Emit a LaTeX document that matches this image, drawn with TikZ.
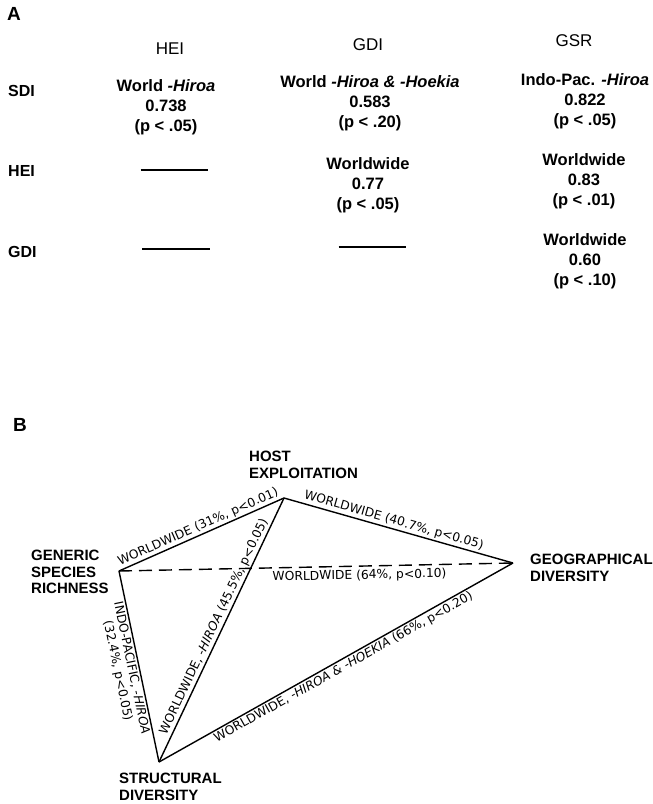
\documentclass[tikz,border=0pt]{standalone}
\usepackage{fontspec}
\setmainfont{Liberation Sans}
\newfontfamily\lblfont{DejaVu Sans}
\begin{document}
\begin{tikzpicture}[x=1pt,y=-1pt,
  tab/.style={font=\fontsize{16.5}{20}\selectfont\bfseries, align=center, inner sep=0pt},
  hdr/.style={font=\fontsize{17}{20}\selectfont, inner sep=0pt},
  rowl/.style={font=\fontsize{16}{20}\selectfont\bfseries, anchor=west, inner sep=0pt},
  panel/.style={font=\fontsize{19}{20}\selectfont\bfseries, inner sep=0pt},
  vlab/.style={font=\fontsize{15}{16.5}\selectfont\bfseries, align=left, anchor=west, inner sep=0pt},
  elab/.style={font=\lblfont\fontsize{12.3}{14}\selectfont, sloped, inner sep=1.5pt},
  edgeline/.style={line width=1.4pt, line join=round},
  nilmark/.style={inner sep=0pt},
]
\useasboundingbox (0,0) rectangle (653,804);

% ---------- Panel A ----------
\node[panel] (pA) at (14,14) {A};
\node[hdr] (hHEI) at (170,49) {HEI};
\node[hdr] (hGDI) at (368,45) {GDI};
\node[hdr] (hGSR) at (574,41) {GSR};
\node[rowl] (rSDI) at (8,91) {SDI};
\node[rowl] (rHEI) at (8,171) {HEI};
\node[rowl] (rGDI) at (8,252) {GDI};

\node[tab] (c11) at (166,107) {World \textit{-Hiroa}\\0.738\\(p < .05)};
\node[tab] (c12) at (370,103) {World \textit{-Hiroa \& -Hoekia}\\0.583\\(p < .20)};
\node[tab] (c13) at (585,101) {Indo-Pac. \textit{-Hiroa}\\0.822\\(p < .05)};
\node[tab] (c22) at (368,185) {Worldwide\\0.77\\(p < .05)};
\node[tab] (c23) at (584,181) {Worldwide\\0.83\\(p < .01)};
\node[tab] (c33) at (585,261) {Worldwide\\0.60\\(p < .10)};

\node[nilmark] (d21) at (174,170) {\rule{67pt}{1.3pt}};
\node[nilmark] (d31) at (176,249) {\rule{68pt}{1.3pt}};
\node[nilmark] (d32) at (372,247) {\rule{67pt}{1.3pt}};

% ---------- Panel B ----------
\node[panel] (pB) at (20,425) {B};

\coordinate (R) at (119,571);
\coordinate (H) at (284,498);
\coordinate (G) at (513,563);
\coordinate (S) at (159,762);

\node[vlab] (lR) at (31,572) {GENERIC\\SPECIES\\RICHNESS};
\node[vlab] (lH) at (249,465) {HOST\\EXPLOITATION};
\node[vlab] (lG) at (530,568) {GEOGRAPHICAL\\DIVERSITY};
\node[vlab] (lS) at (119,787) {STRUCTURAL\\DIVERSITY};

\draw[edgeline] (R) -- node[elab, above, pos=0.5] {WORLDWIDE (31\%, p<0.01)} (H);
\draw[edgeline] (H) -- node[elab, above, pos=0.47] {WORLDWIDE (40.7\%, p<0.05)} (G);
\draw[edgeline, dash pattern=on 13pt off 7pt] (R) -- node[elab, below, pos=0.61, inner sep=3pt] {WORLDWIDE (64\%, p<0.10)} (G);
\draw[edgeline] (S) -- node[elab, above, pos=0.5] {WORLDWIDE, \textit{-HIROA} (45.5\%, p<0.05)} (H);
\draw[edgeline] (R) -- node[elab, below, pos=0.5, align=center] {INDO-PACIFIC, \textit{-HIROA}\\(32.4\%, p<0.05)} (S);
\draw[edgeline] (S) -- node[elab, below, pos=0.51] {WORLDWIDE, \textit{-HIROA \& -HOEKIA} (66\%, p<0.20)} (G);
\end{tikzpicture}
\end{document}
